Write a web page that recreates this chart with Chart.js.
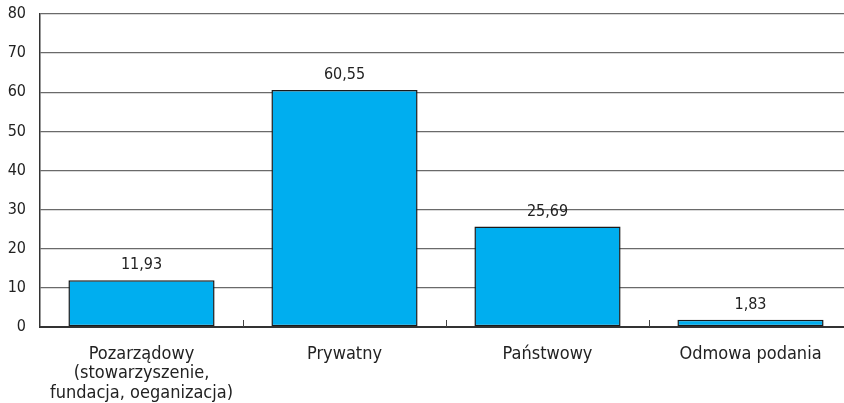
<!DOCTYPE html>
<html>
<head>
<meta charset="utf-8">
<script src="https://cdn.jsdelivr.net/npm/chart.js@4/dist/chart.umd.min.js"></script>
<style>
  html, body { margin: 0; padding: 0; background: #fff; overflow: hidden; }
  #wrap { position: absolute; left: 0; top: 0; width: 852px; height: 403px; }
</style>
</head>
<body>
<div id="wrap"><canvas id="my-chart"></canvas></div>
<script>
const categories = [
    ['Pozarządowy', '(stowarzyszenie,', 'fundacja, oeganizacja)'],
    'Prywatny',
    'Państwowy',
    'Odmowa podania',
];
const shares = [11.93, 60.55, 25.69, 1.83];
const yTicks = [0, 10, 20, 30, 40, 50, 60, 70, 80];

const FONT = "'Liberation Sans Narrow', 'Arial Narrow', 'DejaVu Sans Condensed', sans-serif";

// value labels above bars, with comma decimals
const valueLabels = {
    id: 'valueLabels',
    afterDatasetsDraw(chart) {
        const ctx = chart.ctx;
        const meta = chart.getDatasetMeta(0);
        ctx.save();
        ctx.font = '16px ' + FONT;
        ctx.fillStyle = '#222';
        ctx.textAlign = 'center';
        ctx.textBaseline = 'bottom';
        meta.data.forEach((bar, i) => {
            const txt = shares[i].toFixed(2).replace('.', ',');
            ctx.fillText(txt, bar.x, bar.y - 7);
        });
        ctx.restore();
    },
};

// short inner tick marks between categories
const innerTicks = {
    id: 'innerTicks',
    afterDatasetsDraw(chart) {
        const ctx = chart.ctx;
        const x = chart.scales.x;
        const bottom = chart.chartArea.bottom;
        ctx.save();
        ctx.strokeStyle = '#444';
        ctx.lineWidth = 1;
        for (let i = 0; i < categories.length - 1; i++) {
            const px = Math.round((x.getPixelForValue(i) + x.getPixelForValue(i + 1)) / 2) + 0.5;
            ctx.beginPath();
            ctx.moveTo(px, bottom - 7);
            ctx.lineTo(px, bottom);
            ctx.stroke();
        }
        ctx.restore();
    },
};

var ctx = document.getElementById('my-chart').getContext('2d');

let myChart = new Chart(ctx, {
    type: 'bar',
    data: {
        labels: categories,
        datasets: [
            {
                data: shares,
                backgroundColor: '#00AEEF',
                borderColor: '#1a1a1a',
                borderWidth: 1.5,
                borderSkipped: false,
                barPercentage: 0.72,
                categoryPercentage: 1,
            },
        ],
    },
    options: {
        responsive: true,
        maintainAspectRatio: false,
        animation: false,
        layout: {
            padding: { top: 14, left: 0, right: 0, bottom: 0 },
        },
        plugins: {
            legend: { display: false },
            tooltip: { enabled: false },
        },
        scales: {
            x: {
                grid: { display: false },
                border: { color: '#333', width: 2 },
                ticks: {
                    color: '#222',
                    padding: 9,
                    maxRotation: 0,
                    autoSkip: false,
                    font: { family: FONT, size: 18, lineHeight: 1.1 },
                },
                afterFit(scale) { scale.height = 76; },
            },
            y: {
                min: 0,
                max: 80,
                afterBuildTicks(scale) { scale.ticks = yTicks.map(v => ({ value: v })); },
                grid: { color: '#6a6a6a', lineWidth: 1.3, drawTicks: false },
                border: { color: '#333', width: 1.5 },
                ticks: {
                    color: '#222',
                    padding: 14,
                    font: { family: FONT, size: 16 },
                },
                afterFit(scale) {
                    scale.width = 40;
                    scale.paddingTop = 0;
                    scale.paddingBottom = 0;
                },
            },
        },
    },
    plugins: [valueLabels, innerTicks],
});
</script>
</body>
</html>
